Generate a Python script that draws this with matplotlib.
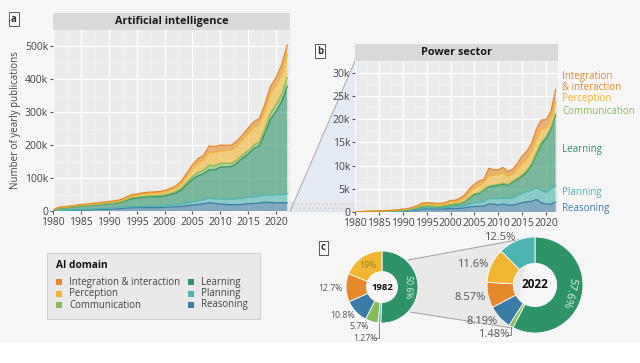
import numpy as np
import matplotlib
matplotlib.use("Agg")
import matplotlib.pyplot as plt
from matplotlib.patches import Rectangle, Polygon

plt.rcParams['font.family'] = ['Open Sans', 'DejaVu Sans']

W, H = 640, 363
years = list(range(1980, 2023))

domains = ["Integration & interaction", "Perception", "Communication",
           "Learning", "Planning", "Reasoning"]
colors = {"Integration & interaction": "#e5892b", "Perception": "#f2b632",
          "Communication": "#86bb57", "Learning": "#2e9467",
          "Planning": "#4db5b1", "Reasoning": "#3a7ca5"}

# ---- Panel a: Artificial intelligence (thousands of publications) ----
ai_reasoning = [0.3, 1.2, 1.5, 1.8, 2.5, 3, 3.5, 4, 4.5, 5, 5.5, 6.5, 7.5, 9, 10, 10.5, 10.5, 10.5, 10.5, 10.5,
                11, 12, 13, 14, 16, 18, 20, 22, 25, 23, 21, 20, 19, 19, 20, 22, 23, 24, 27, 26, 25, 25, 25]
ai_planning = [0.1, 0.3, 0.5, 0.6, 0.8, 1.5, 1.6, 1.8, 2, 2.2, 2.5, 2.7, 3, 3, 3, 2.5, 3, 3.5, 4, 4.5,
               5, 5.5, 6.5, 7, 8, 9, 11, 12, 14, 14, 15, 16, 17, 18, 19, 20, 20, 21, 22, 22, 24, 25, 27]
ai_learning = [1.9, 6.9, 7.7, 8.9, 9.5, 10.7, 10.8, 11.6, 12.3, 13.1, 13.8, 14, 15, 19, 24.1, 26.2, 28, 28.9, 28.8, 28.8,
               29.5, 32, 35, 42.5, 56, 69, 76, 79, 86, 88, 97, 98, 99, 108, 122, 131, 147, 153, 187, 231, 253, 282, 327]
ai_communication = [0.1, 0.4, 0.6, 0.7, 0.8, 0.9, 1.0, 1.1, 1.2, 1.3, 1.4, 1.5, 1.7, 2, 2.4, 2.6, 2.8, 3, 3.1, 3.2,
                    3.5, 4, 4.5, 5.5, 7, 9, 10, 11, 14, 13, 12, 11, 10, 10, 10, 10, 10, 11, 14, 18, 20, 23, 26]
ai_perception = [0.3, 1.2, 1.5, 1.7, 1.9, 2.2, 2.3, 2.5, 2.8, 3, 3.2, 3.5, 3.8, 4.5, 5.5, 6, 6.3, 6.5, 6.8, 7,
                 7.5, 8.5, 10, 13, 17, 23, 28, 30, 40, 40, 38, 39, 40, 43, 45, 52, 53, 54, 55, 60, 58, 62, 70]
ai_integration = [0.3, 1, 1.2, 1.3, 1.5, 1.7, 1.8, 2, 2.2, 2.4, 2.6, 2.8, 3, 3.5, 4, 4.2, 4.4, 4.6, 4.8, 5,
                  5.5, 6, 7, 9, 11, 12, 14, 15, 19, 18, 17, 16, 15, 15, 16, 17, 18, 18, 20, 22, 25, 28, 29]

# ---- Panel b: Power sector (thousands of publications) ----
pw_reasoning = [0.01, 0.02, 0.03, 0.04, 0.05, 0.07, 0.08, 0.09, 0.1, 0.12, 0.15, 0.2, 0.3, 0.4, 0.6, 0.7, 0.7, 0.65, 0.65, 0.7,
                0.7, 0.75, 0.8, 0.9, 1.1, 1.2, 1.2, 1.3, 1.7, 1.7, 1.5, 1.7, 1.5, 1.5, 1.7, 2.0, 2.2, 2.3, 2.7, 2.0, 1.7, 1.7, 2.1]
pw_planning = [0.005, 0.005, 0.002, 0.01, 0.02, 0.03, 0.04, 0.05, 0.06, 0.07, 0.08, 0.1, 0.12, 0.15, 0.2, 0.2, 0.2, 0.2, 0.25, 0.28,
               0.3, 0.35, 0.4, 0.5, 0.6, 0.8, 0.9, 1.0, 1.2, 1.2, 1.4, 1.3, 1.4, 1.5, 1.9, 2.0, 2.2, 2.4, 2.5, 2.7, 2.5, 3.3, 3.5]
pw_learning = [0.015, 0.035, 0.048, 0.05, 0.05, 0.05, 0.06, 0.06, 0.08, 0.09, 0.12, 0.15, 0.18, 0.25, 0.35, 0.3, 0.3, 0.3, 0.25, 0.32,
               0.5, 0.6, 0.6, 0.8, 1.3, 1.8, 1.9, 2.4, 2.5, 2.7, 2.8, 3.0, 2.8, 3.4, 3.4, 3.7, 4.3, 5.4, 7.2, 9.9, 11.6, 12.8, 15.2]
pw_communication = [0.002, 0.004, 0.005, 0.006, 0.007, 0.01, 0.01, 0.012, 0.014, 0.016, 0.02, 0.025, 0.03, 0.04, 0.05, 0.05, 0.05, 0.05, 0.05, 0.06,
                    0.06, 0.07, 0.08, 0.1, 0.12, 0.14, 0.15, 0.16, 0.2, 0.2, 0.2, 0.2, 0.2, 0.2, 0.22, 0.25, 0.27, 0.3, 0.35, 0.35, 0.35, 0.35, 0.38]
pw_perception = [0.01, 0.015, 0.02, 0.025, 0.03, 0.04, 0.05, 0.06, 0.08, 0.1, 0.12, 0.15, 0.2, 0.3, 0.4, 0.45, 0.4, 0.35, 0.35, 0.35,
                 0.45, 0.35, 0.6, 0.7, 1.1, 1.25, 1.55, 1.55, 2.1, 2.1, 2.2, 2.3, 1.8, 1.5, 1.9, 2.45, 2.4, 2.7, 3.05, 2.85, 1.95, 1.55, 2.6]
pw_integration = [0.01, 0.015, 0.02, 0.03, 0.03, 0.04, 0.05, 0.06, 0.07, 0.08, 0.1, 0.12, 0.15, 0.2, 0.3, 0.3, 0.3, 0.3, 0.3, 0.35,
                  0.5, 0.4, 0.5, 0.7, 0.8, 0.8, 1.0, 0.6, 1.7, 1.2, 1.0, 1.1, 1.0, 1.1, 1.3, 1.7, 1.7, 1.7, 2.1, 2.0, 1.8, 1.8, 2.6]

# ---- Panel c: shares (percent) ----
pie1982_labels = ["Learning", "Planning", "Communication", "Reasoning", "Integration & interaction", "Perception"]
pie1982_values = [50.6, 1.27, 5.7, 10.8, 12.7, 19]
pie2022_labels = ["Learning", "Communication", "Reasoning", "Integration & interaction", "Perception", "Planning"]
pie2022_values = [57.6, 1.48, 8.19, 8.57, 11.6, 12.5]

ai_yticks = [0, 100, 200, 300, 400, 500]
pw_yticks = [0, 5, 10, 15, 20, 25, 30]
xticks = [1980, 1985, 1990, 1995, 2000, 2005, 2010, 2015, 2020]

fig = plt.figure(figsize=(W / 100, H / 100), dpi=100, facecolor="#f6f6f6")


def px_axes(x0, y0, x1, y1, **kw):
    return fig.add_axes([x0 / W, 1 - y1 / H, (x1 - x0) / W, (y1 - y0) / H], **kw)


# white caption strip
fig.patches.append(Rectangle((0, 0), 1, 1 - 343 / H, transform=fig.transFigure,
                             facecolor="white", edgecolor="none", zorder=0))

# overlay in pixel coordinates for connector shapes
ov = px_axes(0, 0, W, H)
ov.set_xlim(0, W)
ov.set_ylim(H, 0)
ov.axis("off")
ov.set_zorder(0)
ov.add_patch(Polygon([(290, 211.5), (355, 61), (355, 212)], closed=True,
                     facecolor="#e4ebf5", edgecolor="none"))
ov.add_patch(Rectangle((290, 201), 65, 11, facecolor="#e6e8ee", edgecolor="#d0d3da",
                       hatch="....", linewidth=0))
ov.plot([290, 355], [211.5, 61], color="#a8a8a8", lw=0.7)
ov.add_patch(Polygon([(408, 260), (533, 237), (512, 328), (410, 312)], closed=True,
                     facecolor="#e9e9e9", edgecolor="none"))
ov.plot([408, 533], [260, 237], color="#a0a0a0", lw=0.7)
ov.plot([410, 512], [312, 328], color="#a0a0a0", lw=0.7)


def stacked(ax, series, ymax, yticks, fmt):
    order = ["Reasoning", "Planning", "Learning", "Communication", "Perception", "Integration & interaction"]
    vals = [np.array(series[d]) for d in order]
    ax.stackplot(years, *vals, colors=[colors[d] for d in order], alpha=0.6, linewidth=0)
    cum = np.cumsum(vals, axis=0)
    for d, c in zip(order, cum):
        ax.plot(years, c, color=colors[d], lw=0.9)
    ax.set_facecolor("#ebebeb")
    ax.set_xlim(1980, 2022)
    ax.set_ylim(0, ymax)
    ax.set_yticks(yticks)
    ax.set_yticklabels([fmt(v) for v in yticks])
    ax.set_xticks(xticks)
    ax.set_xticks([1982.5 + 5 * i for i in range(9)], minor=True)
    ax.set_yticks([yticks[1] / 2 + yticks[1] * i for i in range(len(yticks))], minor=True)
    ax.grid(True, which="major", color="white", lw=0.8)
    ax.grid(True, which="minor", color="#f5f5f5", lw=0.4)
    ax.set_axisbelow(True)
    for s in ax.spines.values():
        s.set_visible(False)
    ax.tick_params(which="major", length=2, color="#555555", labelcolor="#444444", labelsize=7.5, pad=1.5)
    ax.tick_params(axis="x", which="major", pad=2.5)
    ax.tick_params(which="minor", length=0)


def strip(x0, y0, x1, y1, text):
    s = px_axes(x0, y0, x1, y1)
    s.set_facecolor("#d9d9d9")
    s.set_xticks([])
    s.set_yticks([])
    for sp in s.spines.values():
        sp.set_visible(False)
    s.text(0.5, 0.5, text, transform=s.transAxes, ha="center", va="center",
           fontsize=7.8, fontweight="bold", color="#1a1a1a")


def box_label(x, y, t):
    fig.text(x / W, 1 - y / H, t, ha="center", va="center", fontsize=7, fontweight="bold",
             color="#333333",
             bbox=dict(boxstyle="square,pad=0.2", facecolor="white", edgecolor="#555555", lw=0.7))


# Panel a
axa = px_axes(53, 30, 290, 211)
axa.set_zorder(2)
stacked(axa, {"Reasoning": ai_reasoning, "Planning": ai_planning, "Learning": ai_learning,
              "Communication": ai_communication, "Perception": ai_perception,
              "Integration & interaction": ai_integration},
        532, ai_yticks, lambda v: "0" if v == 0 else f"{v}k")
axa.set_ylabel("Number of yearly publications", fontsize=7, color="#444444", labelpad=3)
strip(53, 13, 290, 30, "Artificial intelligence")
box_label(14, 19, "a")

# Panel b
axb = px_axes(355, 61, 558, 212)
axb.set_zorder(2)
stacked(axb, {"Reasoning": pw_reasoning, "Planning": pw_planning, "Learning": pw_learning,
              "Communication": pw_communication, "Perception": pw_perception,
              "Integration & interaction": pw_integration},
        30.34, pw_yticks, lambda v: "0" if v == 0 else f"{v}k")
strip(355, 44, 558, 61, "Power sector")
box_label(320, 51, "b")

side = [("Integration\n& interaction", 82, "Integration & interaction"),
        ("Perception", 99, "Perception"), ("Communication", 111, "Communication"),
        ("Learning", 150, "Learning"), ("Planning", 192, "Planning"), ("Reasoning", 208, "Reasoning")]
for t, y, d in side:
    fig.text(562 / W, 1 - y / H, t, ha="left", va="center", fontsize=7, color=colors[d],
             linespacing=1.0)

# Legend
leg = px_axes(47, 253, 260, 319)
leg.set_xlim(47, 260)
leg.set_ylim(319, 253)
leg.set_facecolor("#e9e9e9")
leg.set_xticks([])
leg.set_yticks([])
for sp in leg.spines.values():
    sp.set_color("#d0d0d0")
    sp.set_linewidth(0.7)
leg.text(56, 266, "AI domain", fontsize=7.3, fontweight="bold", va="center", color="#111111")
cols = [["Integration & interaction", "Perception", "Communication"],
        ["Learning", "Planning", "Reasoning"]]
for ci, (xs, xt) in enumerate([(59, 69), (191, 201)]):
    for ri, d in enumerate(cols[ci]):
        y = 282 + ri * 11.5
        leg.add_patch(Rectangle((xs - 3, y - 3), 6, 6, facecolor=colors[d], edgecolor="none"))
        leg.text(xt, y, d, fontsize=6.9, va="center", color="#444444")

# Pies
box_label(323.5, 248, "c")


def pie(cx, cy, R, labels, vals, hole, k, center_text, inside, outside, lead, fs):
    ax = px_axes(cx - R * k, cy - R * k, cx + R * k, cy + R * k)
    ax.set_zorder(3)
    wedges, _ = ax.pie(vals, colors=[colors[l] for l in labels], startangle=90, counterclock=False,
                       radius=1, wedgeprops=dict(width=1 - hole, edgecolor="white", linewidth=0.6))
    ax.set_xlim(-k, k)
    ax.set_ylim(-k, k)
    ax.set_aspect("equal")
    ax.axis("off")
    ax.text(0, 0, center_text, ha="center", va="center", fontsize=fs + 0.5, fontweight="bold", color="#111111")
    total = sum(vals)
    start = 90.0
    rmid = (1 + hole) / 2
    for l, v in zip(labels, vals):
        ang = start - v / total * 180
        start -= v / total * 360
        txt = f"{v:g}%"
        if l in inside:
            col, rot = inside[l]
            a = np.deg2rad(ang)
            ax.text(rmid * np.cos(a), rmid * np.sin(a), txt, ha="center", va="center",
                    fontsize=fs, color=col, rotation=rot(ang))
        else:
            x, y = outside[l]
            ax.text(x, y, txt, ha="center", va="center", fontsize=fs, color="#555555")
    ax.plot(*lead, color="#777777", lw=0.6)


pie(382, 287, 36, pie1982_labels, pie1982_values, 0.43, 1.9, "1982",
    {"Learning": ("#d8eee0", lambda a: a - 90), "Perception": ("#9a8428", lambda a: 0)},
    {"Integration & interaction": (-1.42, -0.03), "Reasoning": (-1.11, -0.78),
     "Communication": (-0.64, -1.11), "Planning": (-0.45, -1.42)},
    ([-0.08, -0.08, -0.2], [-1.0, -1.42, -1.42]), 6.3)

pie(535, 285, 48, pie2022_labels, pie2022_values, 0.45, 1.6, "2022",
    {"Learning": ("#d8eee0", lambda a: a - 90)},
    {"Planning": (-0.74, 1.0), "Perception": (-1.29, 0.42), "Integration & interaction": (-1.35, -0.25),
     "Reasoning": (-1.11, -0.75), "Communication": (-0.86, -1.04)},
    ([-0.5, -0.5, -0.58], [-0.88, -1.04, -1.04]), 8)

fig.text(2 / W, 1 - 364 / H,
         "Fig. 1: Stacked histograms of artificial intelligence publications by AI domain over time",
         ha="left", va="top", fontsize=10, color="#222222")

fig.savefig("out.png", dpi=100, facecolor=fig.get_facecolor())
